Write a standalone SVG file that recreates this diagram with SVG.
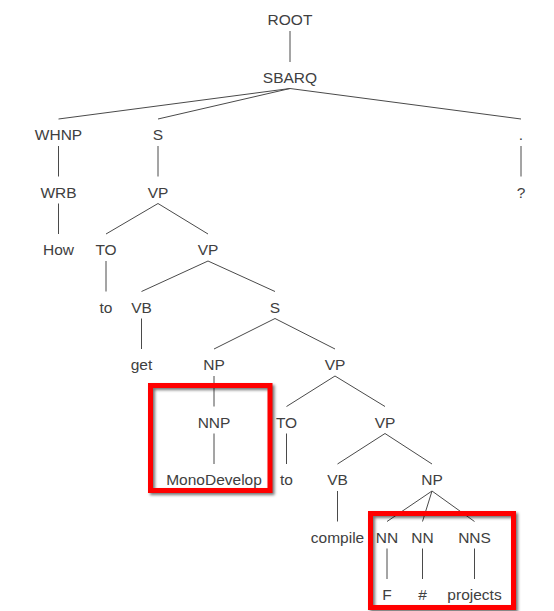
<svg xmlns="http://www.w3.org/2000/svg" width="554" height="611" viewBox="0 0 554 611">
<defs>
<filter id="sh" x="-10%" y="-10%" width="120%" height="120%"><feGaussianBlur stdDeviation="1.5"/></filter>
</defs>
<style>
text{font-family:"Liberation Sans",Arial,sans-serif;font-size:15.5px;fill:#404040;text-anchor:middle}
.e line{stroke:#4a4a4a;stroke-width:1}
.hl{fill:none;stroke:#ff0000;stroke-width:5}
.shd{fill:none;stroke:#000;stroke-opacity:0.55;stroke-width:5;filter:url(#sh)}
</style>
<rect width="554" height="611" fill="#fff"/>
<g class="e" id="connectors">
<line x1="290" y1="31" x2="290" y2="62"/>
<line x1="290" y1="88.5" x2="58.5" y2="119"/>
<line x1="290" y1="88.5" x2="158" y2="119"/>
<line x1="290" y1="88.5" x2="521" y2="119"/>
<line x1="58.5" y1="146" x2="58.5" y2="176.5"/>
<line x1="158" y1="146" x2="158" y2="176.5"/>
<line x1="521" y1="146" x2="521" y2="176.5"/>
<line x1="58.5" y1="203.5" x2="58.5" y2="234"/>
<line x1="158" y1="203.5" x2="106" y2="234"/>
<line x1="158" y1="203.5" x2="208" y2="234"/>
<line x1="106" y1="261" x2="106" y2="291.5"/>
<line x1="208" y1="261" x2="141.5" y2="291.5"/>
<line x1="208" y1="261" x2="275" y2="291.5"/>
<line x1="141.5" y1="318.5" x2="141.5" y2="349"/>
<line x1="275" y1="318.5" x2="214" y2="349"/>
<line x1="275" y1="318.5" x2="335" y2="349"/>
<line x1="214" y1="376" x2="214" y2="406.5"/>
<line x1="335" y1="376" x2="286.5" y2="406.5"/>
<line x1="335" y1="376" x2="385" y2="406.5"/>
<line x1="214" y1="433.5" x2="214" y2="464"/>
<line x1="286.5" y1="433.5" x2="286.5" y2="464"/>
<line x1="385" y1="433.5" x2="337.5" y2="464"/>
<line x1="385" y1="433.5" x2="432" y2="464"/>
<line x1="337.5" y1="491" x2="337.5" y2="521.5"/>
<line x1="432" y1="491" x2="387" y2="521.5"/>
<line x1="432" y1="491" x2="422.5" y2="521.5"/>
<line x1="432" y1="491" x2="474.5" y2="521.5"/>
<line x1="387" y1="548.5" x2="387" y2="579"/>
<line x1="422.5" y1="548.5" x2="422.5" y2="579"/>
<line x1="474.5" y1="548.5" x2="474.5" y2="579"/>
</g>
<g id="n-root"><text x="290" y="25">ROOT</text></g>
<g id="n-sbarq"><text x="290" y="82.5">SBARQ</text></g>
<g id="n-whnp"><text x="58.5" y="140">WHNP</text></g>
<g id="n-s1"><text x="158" y="140">S</text></g>
<g id="n-dot"><text x="521" y="140">.</text></g>
<g id="n-wrb"><text x="58.5" y="197.5">WRB</text></g>
<g id="n-vp1"><text x="158" y="197.5">VP</text></g>
<g id="n-q"><text x="521" y="197.5">?</text></g>
<g id="n-how"><text x="58.5" y="255">How</text></g>
<g id="n-to1"><text x="106" y="255">TO</text></g>
<g id="n-vp2"><text x="208" y="255">VP</text></g>
<g id="n-tow1"><text x="106" y="312.5">to</text></g>
<g id="n-vb1"><text x="141.5" y="312.5">VB</text></g>
<g id="n-s2"><text x="275" y="312.5">S</text></g>
<g id="n-get"><text x="141.5" y="370">get</text></g>
<g id="n-np1"><text x="214" y="370">NP</text></g>
<g id="n-vp3"><text x="335" y="370">VP</text></g>
<g id="n-nnp"><text x="214" y="427.5">NNP</text></g>
<g id="n-to2"><text x="286.5" y="427.5">TO</text></g>
<g id="n-vp4"><text x="385" y="427.5">VP</text></g>
<g id="n-mono"><text x="214" y="485">MonoDevelop</text></g>
<g id="n-tow2"><text x="286.5" y="485">to</text></g>
<g id="n-vb2"><text x="337.5" y="485">VB</text></g>
<g id="n-np2"><text x="432" y="485">NP</text></g>
<g id="n-compile"><text x="337.5" y="542.5">compile</text></g>
<g id="n-nn1"><text x="387" y="542.5">NN</text></g>
<g id="n-nn2"><text x="422.5" y="542.5">NN</text></g>
<g id="n-nns"><text x="474.5" y="542.5">NNS</text></g>
<g id="n-f"><text x="387" y="600">F</text></g>
<g id="n-hash"><text x="422.5" y="600">#</text></g>
<g id="n-projects"><text x="474.5" y="600">projects</text></g>
<g id="highlight1">
<rect class="shd" x="152.5" y="387.5" width="119.5" height="105"/>
<rect class="hl" x="150.5" y="385.5" width="119.5" height="105"/>
</g>
<g id="highlight2">
<rect class="shd" x="372.5" y="515.5" width="143" height="94"/>
<rect class="hl" x="370.5" y="513.5" width="143" height="94"/>
</g>
</svg>
